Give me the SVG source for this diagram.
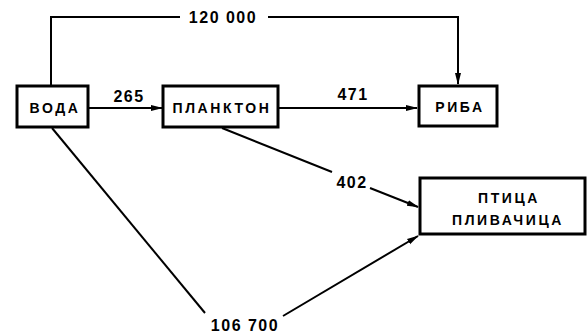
<svg xmlns="http://www.w3.org/2000/svg" width="588" height="334" viewBox="0 0 588 334">
<defs>
<marker id="ah" markerWidth="12" markerHeight="8" refX="11" refY="4" orient="auto" markerUnits="userSpaceOnUse">
<path d="M0,1 L12,4 L0,7 Z" fill="#000"/>
</marker>
<style>
.box{fill:#fff;stroke:#000;stroke-width:3}
.lbl{font-family:"Liberation Sans",Arial,sans-serif;font-weight:bold;font-size:14px;letter-spacing:2.6px;text-anchor:middle;fill:#000}
.num{font-family:"Liberation Sans",Arial,sans-serif;font-weight:bold;font-size:16px;letter-spacing:1.5px;text-anchor:middle;fill:#000}
.ln{fill:none;stroke:#000;stroke-width:2}
</style>
</defs>
<rect width="588" height="334" fill="#fff"/>
<g id="connectors">
<path class="ln" d="M51,86 V17 H180"/>
<path class="ln" d="M268,17 H458 V84" marker-end="url(#ah)"/>
<line class="ln" x1="88" y1="108" x2="162" y2="108" marker-end="url(#ah)"/>
<line class="ln" x1="278" y1="108" x2="417" y2="108" marker-end="url(#ah)"/>
<line class="ln" x1="222" y1="128" x2="332" y2="172"/>
<line class="ln" x1="370" y1="188" x2="418" y2="207" marker-end="url(#ah)"/>
<line class="ln" x1="52" y1="128" x2="205" y2="313"/>
<line class="ln" x1="283" y1="316" x2="418" y2="236" marker-end="url(#ah)"/>
<text class="num" x="223" y="23">120 000</text>
<text class="num" x="129" y="102">265</text>
<text class="num" x="353" y="100">471</text>
<text class="num" x="352" y="188">402</text>
<text class="num" x="245" y="331">106 700</text>
</g>
<g id="voda">
<rect class="box" x="17" y="86" width="71" height="41"/>
<text class="lbl" x="55" y="113">ВОДА</text>
</g>
<g id="plankton">
<rect class="box" x="163" y="86" width="115" height="41"/>
<text class="lbl" x="222" y="113">ПЛАНКТОН</text>
</g>
<g id="riba">
<rect class="box" x="419" y="86" width="78" height="40"/>
<text class="lbl" x="460" y="112">РИБА</text>
</g>
<g id="ptica">
<rect class="box" x="420" y="178" width="165" height="56"/>
<text class="lbl" x="509" y="203">ПТИЦА</text>
<text class="lbl" x="508" y="225">ПЛИВАЧИЦА</text>
</g>
</svg>
